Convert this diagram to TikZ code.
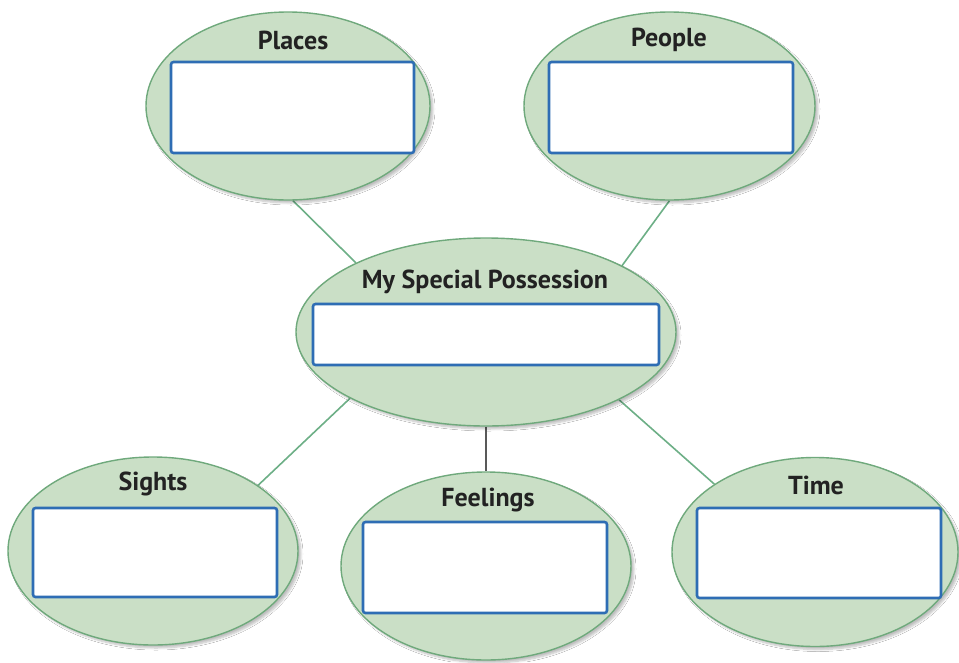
\documentclass[tikz,border=0pt]{standalone}
\usepackage{fontspec}
\setmainfont{PT Sans}
\usetikzlibrary{shapes.geometric,shadows.blur,backgrounds}
\definecolor{bubblefill}{HTML}{CADFC6}
\definecolor{bubbleline}{HTML}{6FA97C}
\definecolor{boxline}{HTML}{2E6DB4}
\definecolor{linkgreen}{HTML}{6DAF86}
\definecolor{labelgray}{HTML}{222222}
\tikzset{
  bubble/.style={ellipse, draw=bubbleline, fill=bubblefill, line width=1.4pt,
    inner sep=0pt, blur shadow={shadow xshift=3pt, shadow yshift=-3pt,
    shadow blur steps=6, shadow opacity=25}},
  writebox/.style={rectangle, draw=boxline, fill=white, line width=2.6pt,
    rounded corners=2.5pt, inner sep=0pt},
  heading/.style={font=\bfseries\fontsize{26}{30}\selectfont, text=labelgray, inner sep=0pt},
  link/.style={draw=linkgreen, line width=1.6pt},
  stem/.style={draw=black!65, line width=1.4pt}
}
\begin{document}
\begin{tikzpicture}[x=1pt,y=-1pt]
\useasboundingbox (0,0) rectangle (959,662);

% bubble centres
\coordinate (pc) at (288,106);
\coordinate (qc) at (669.5,106);
\coordinate (mc) at (486,332);
\coordinate (sc) at (153,551);
\coordinate (fc) at (486,566);
\coordinate (tc) at (815,552);

% bubbles
\node[bubble, minimum width=284pt, minimum height=188pt] (places) at (pc) {};
\node[bubble, minimum width=291pt, minimum height=188pt] (people) at (qc) {};
\node[bubble, minimum width=380pt, minimum height=188pt] (main) at (mc) {};
\node[bubble, minimum width=290pt, minimum height=188pt] (sights) at (sc) {};
\node[bubble, minimum width=290pt, minimum height=188pt] (feelings) at (fc) {};
\node[bubble, minimum width=286pt, minimum height=189pt] (time) at (tc) {};

% links between bubbles, kept behind them
\begin{scope}[on background layer]
\fill[white] (0,0) rectangle (959,662);
\path[link] (places.-87.6) -- (main.152.6);
\path[link] (people.-90) -- (main.26.6);
\path[link] (main.206.9) -- (sights.32.5);
\path[link] (main.-27.6) -- (time.146.6);
\path[stem] (main.south) -- (feelings.north);
\end{scope}

% headings
\node[heading] (placesT) at (293,40) {Places};
\node[heading] (peopleT) at (669,40) {People};
\node[heading] (mainT) at (485,282) {My Special Possession};
\node[heading] (sightsT) at (153,484) {Sights};
\node[heading] (feelingsT) at (488,500) {Feelings};
\node[heading] (timeT) at (816,485) {Time};

% writing boxes
\node[writebox, minimum width=243pt, minimum height=91pt] (placesB) at (292.5,107.5) {};
\node[writebox, minimum width=244pt, minimum height=91pt] (peopleB) at (671,107.5) {};
\node[writebox, minimum width=346pt, minimum height=61pt] (mainB) at (486,334.5) {};
\node[writebox, minimum width=244pt, minimum height=89pt] (sightsB) at (155,552.5) {};
\node[writebox, minimum width=244pt, minimum height=91pt] (feelingsB) at (485,567.5) {};
\node[writebox, minimum width=244pt, minimum height=90pt] (timeB) at (819,553) {};
\end{tikzpicture}
\end{document}
